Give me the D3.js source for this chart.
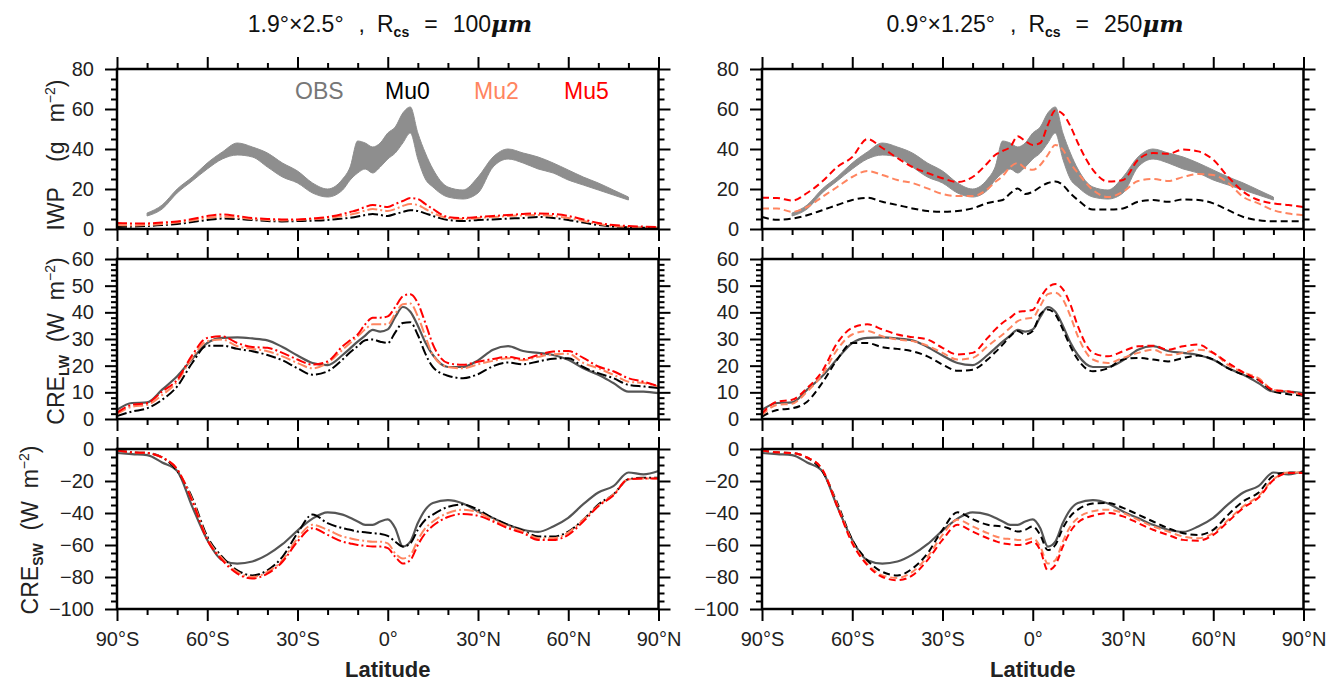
<!DOCTYPE html>
<html>
<head>
<meta charset="utf-8">
<script src="https://cdn.jsdelivr.net/npm/d3@7"></script>
<style>
  body { margin: 0; background: #fff; }
  text { font-family: "Liberation Sans", Arial, Helvetica, sans-serif; white-space: pre; }
</style>
</head>
<body>
<svg id="chart" width="1338" height="683"></svg>
<script>
// latitude grid shared by every series
const lat = [-90,-85,-80,-75,-70,-65,-60,-55,-50,-45,-40,-35,-30,-25,-20,-15,-12.5,-10,-7.5,-5,-2.5,
             0,2.5,5,7.5,10,12.5,15,20,25,30,35,40,45,50,55,60,65,70,75,80,85,90];

// IWP observations: range band (g m-2)
const iwpObsLow  = [null,null,6.5,10,18,24,30,35,37,36,31,26,23,18,16,19.5,24.5,28,30,28,31,35,38,43,48,35,25,21,16,15,18,31,35,33,30,28,24.5,22,19.5,17,14.5,null,null];
const iwpObsHigh = [null,null,8,12,20,26,33,38.5,43,41,38,33,29,23,20,25,31,44,43,41,43,48,51,58,61,48,38,30,21,19.5,26,36,40,38,36,33,29.5,26,23,19.5,16,null,null];

// IWP, 1.9x2.5 (left)
const iwpMu0L = [1,1.2,1.5,2,2.5,3.5,4.5,5.2,5,4.5,4,3.8,4,4.2,4.5,5.2,5.6,6.2,7,7.5,7,6.5,7.5,8.5,9.4,9,7.8,6.5,4.5,4,4.5,4.8,5.2,5.5,6,5.5,4.5,3.2,2,1.2,0.8,0.6,0.5];
const iwpMu2L = [2,1.8,2,2.5,3.2,4.3,5.5,6.2,5.7,5,4.5,4.3,4.5,5,5.5,6.5,7.2,8,9.2,10,9.5,9,10,11.5,12.5,12,10,8,5.5,5,5.5,6,6.5,6.8,7,6.5,5.5,4,2.5,1.5,1,0.8,0.8];
const iwpMu5L = [3,2.8,2.8,3.2,3.8,5,6.5,7.3,6.5,5.5,5,4.8,4.8,5.3,6,7.5,8.5,9.5,11,12,11.5,11,12.5,14,15.5,15,12.5,10,6,5.5,6,6.5,7,7.5,7.8,7.5,6.5,4.8,3,2,1.5,1.2,1];
// IWP, 0.9x1.25 (right)
const iwpMu0R = [6,4.6,5.2,6.9,9.4,12,14.5,15.6,13.6,12,10.3,9,8.6,9,10.3,13,13.8,14.5,17.8,20.3,17.5,18.6,21,23,23.7,22,17.8,14.5,9.7,9.7,10.3,13.6,14.5,13.6,14.8,14.5,12.8,9.4,6,4.4,3.9,3.9,3.9];
const iwpMu2R = [10.3,10.3,8.6,11,16,21,26,29,27,24.5,23,20.3,17.5,16.5,16.5,20,23.5,26.5,31,33,30.5,29.6,32,37,42,39.7,33,28,19.5,16,18.6,24,25,24,26,27.5,27,23,16,12.8,9.4,7.7,6.9];
const iwpMu5R = [15.6,15.5,14.2,18,23.7,31,36,45,40.5,35.5,31,28,25.4,23.5,26,33,37,39,41,46.4,44,42,43,52,59.3,57.5,51.5,43,29.6,23.7,24.5,34.6,38,37.6,39.7,38.8,34.6,26,18.6,14.5,12.8,12,11];

// longwave cloud radiative effect (W m-2)
const lwObs   = [3.4,6,6.2,11,16,22.5,28.5,30.4,30.6,30.2,29.5,27,23.8,21,20.2,24,26.5,29,31.3,33.4,32.8,33.6,38.3,42,40.2,35,28.7,24,19.5,19.5,22,26,27.3,25.5,24.8,24,22.2,19,16.6,13.5,10.3,10.3,9.7];
const lwMu0L  = [1.1,2.8,4,7.2,12.2,21,27.5,27.5,26.3,25.4,24,22,19,16.6,17.9,22.3,25,27.3,29.5,29.8,29,28.5,32.5,36,36.3,31.5,24.5,19.5,16.2,15.3,16.8,19.8,21.2,20.5,21.6,22.6,22.8,19.5,17.2,15.3,12.8,12.2,11.6];
const lwMu2L  = [1.9,4.6,5.3,9,14,23,29.2,29.8,27.3,26.3,25.4,23.5,21,19,21,26,28.5,31,33.6,35.5,35.5,35.5,39.5,43,43.3,38.5,31,24,19.5,19,20.5,21.8,22.8,22,23.3,24.3,24.5,21,19,16.6,14,13.5,12.2];
const lwMu5L  = [2.4,5.3,6,10.3,14.7,24,30.4,31,28.5,27,26.7,24.8,22.3,20.4,21.6,27.3,29.5,31.7,35.5,38,38,38.5,42,46,46.8,43.5,36,28,21,20.3,21.5,22.5,23.3,22.5,24,25.3,25.5,22.9,19.7,17.9,15.3,14,12.2];
const lwMu0R  = [0.9,3.4,4,6.5,13.5,22.3,28.5,28.5,26.9,26.3,25.4,23.5,20.4,18.1,18.5,22.3,25,27.9,31,33,31.7,33,39.2,41.1,39.2,33.6,27.3,22.3,17.9,19,22.3,22.9,22.3,21.6,22.9,23.8,22.3,19,16.6,14.7,10.3,9.3,8.7];
const lwMu2R  = [1.5,5.3,5.7,10.3,16.6,26,31.7,33,31,29.8,29.2,27.5,24.8,22.3,22.9,27.3,29.5,31.7,34.2,36.7,37.6,38,42.4,46.8,47.4,44.9,38.6,31,22.3,21,22.9,24.8,26,24,24.8,26,24.8,20.2,17.5,15.3,10.9,10.3,9];
const lwMu5R  = [2.1,6.5,7.2,11.6,17.9,28.5,34.2,35.5,33.6,31.7,30.7,29.8,26.7,24.2,24.8,30.4,33.5,36.1,38,40.1,40.5,40.9,45.5,49.3,50.6,48.7,43,34.8,24.8,23.5,25.4,27.3,27.5,26,27.3,27.9,24.8,21,17.5,14.7,10.9,10.3,9];

// shortwave cloud radiative effect (W m-2)
const swObs   = [-2.5,-3.2,-3.8,-8.4,-13.7,-36,-56.8,-69.5,-71.6,-70.3,-66,-59.5,-51,-43.5,-39.6,-41,-43,-45.3,-47.4,-47.4,-45.3,-44,-49.5,-61,-57.9,-46.3,-37.9,-33.7,-32,-34.1,-39,-43.2,-47.4,-50.5,-51.8,-48.4,-43,-34.5,-27.2,-23.2,-14.7,-15.8,-13.7];
const swMu0L  = [-1,-2.1,-2.5,-5.3,-13.7,-30.5,-54.7,-67.4,-75.8,-79,-75.8,-67.4,-52.6,-41,-46.3,-49.5,-50.5,-51.6,-52,-52.6,-53,-54.3,-57.9,-61,-59,-50.5,-44.2,-41,-36.2,-34.7,-37.9,-43.2,-47.4,-51,-54.7,-54.7,-51.6,-44.2,-34.7,-28.4,-18.9,-17.9,-17.9];
const swMu2L  = [-1,-2.1,-2.5,-5.3,-12.6,-31.6,-55.8,-68.4,-76.8,-80,-76.8,-69.5,-55.8,-47.4,-50.5,-54.7,-55.8,-56.8,-57.4,-57.9,-57.9,-59,-65.3,-68.4,-66.3,-56.8,-49.5,-45.3,-40,-37.9,-39.6,-44.2,-48.4,-51.6,-55.8,-55.8,-52.2,-44.2,-35.4,-28.4,-18.9,-18.5,-18.5];
const swMu5L  = [-1,-2.1,-2.5,-5.3,-12.6,-32.6,-56.8,-69.5,-77.9,-81,-77.9,-70.5,-57.9,-49.5,-53.7,-57.9,-59,-60,-60.5,-61,-61,-62,-67.4,-71.6,-69.5,-60,-52.6,-48,-42.5,-40.6,-41.7,-45.3,-49.5,-52.6,-56.8,-56.8,-53.7,-45.3,-35.8,-29,-18.9,-18.5,-18.5];
const swMu0R  = [-1,-2.1,-2.5,-5.5,-13.7,-33.7,-56.8,-69.5,-76.8,-79,-74.7,-65.3,-50.5,-39.6,-43.8,-47.4,-48,-48.4,-50,-51.6,-50.5,-48.4,-53.7,-63.2,-60,-49.5,-42.1,-37.9,-34.1,-33.7,-36.8,-41,-45.3,-49.5,-52.6,-53.7,-50.5,-41,-32.6,-27.4,-16.8,-14.7,-14.7];
const swMu2R  = [-1,-2.1,-2.5,-5.3,-12.6,-34.7,-57.9,-71.6,-79,-80.6,-76.8,-67.4,-53.7,-44.2,-48.4,-52.6,-54.5,-55.8,-56.3,-56.8,-56.8,-55.8,-61,-71.6,-69.5,-57.9,-48.4,-43.2,-38.9,-37.9,-40,-44.2,-48.4,-51.6,-54.7,-55.8,-52.6,-44.2,-35.8,-29.5,-18.9,-14.7,-14.7];
const swMu5R  = [-1,-2.1,-2.5,-5.3,-12.6,-35.8,-58.9,-72.6,-80,-82,-79,-69.5,-56.8,-47.4,-51.6,-55.8,-57.5,-58.9,-59.5,-60,-59.5,-57.9,-63.2,-75.8,-72.6,-61,-51.6,-45.9,-41.7,-40,-42.1,-46.3,-50.5,-53.7,-56.8,-57.3,-53.7,-45.3,-36.8,-30.5,-19.4,-15,-15];

// labels
const legendNames = ["OBS", "Mu0", "Mu2", "Mu5"];
const latTicks = [-90, -60, -30, 0, 30, 60, 90];
const latLabels = ["90°S", "60°S", "30°S", "0°", "30°N", "60°N", "90°N"];

const obsBandColor = "#8e8e8e", obsLineColor = "#555555";
const modelColors = ["#000000", "#ff8560", "#ff0000"];
const legendColors = ["#777777", "#000000", "#ff8560", "#ff0000"];

const svg = d3.select("#chart");
const panelW = 541.5, panelH = 160;
const colX = [117, 762];
const rowY = [69, 259, 449];

const rows = [
  { domain: [0, 80], major: 20, minor: 5 },
  { domain: [0, 60], major: 10, minor: 2 },
  { domain: [-100, 0], major: 20, minor: 5 }
];

const cols = [
  { dash: "10,3,2,3", models: [[iwpMu0L, iwpMu2L, iwpMu5L], [lwMu0L, lwMu2L, lwMu5L], [swMu0L, swMu2L, swMu5L]],
    res: "1.9°×2.5°", rcs: "100", titleX: 390 },
  { dash: "7,4", models: [[iwpMu0R, iwpMu2R, iwpMu5R], [lwMu0R, lwMu2R, lwMu5R], [swMu0R, swMu2R, swMu5R]],
    res: "0.9°×1.25°", rcs: "250", titleX: 1035 }
];
const obsLines = [null, lwObs, swObs];

function styleAxis(s) {
  s.select(".domain").remove();
  s.selectAll("line").attr("stroke", "#000").attr("stroke-width", 2);
  s.selectAll("text").attr("font-size", 20).attr("fill", "#222")
    .attr("font-family", "'Liberation Sans', Arial, sans-serif");
}

function addAxis(g, gen, tr) {
  g.append("g").attr("transform", tr).call(gen).call(styleAxis);
}

cols.forEach((col, c) => {
  const x = d3.scaleLinear().domain([-90, 90]).range([colX[c], colX[c] + panelW]);

  rows.forEach((row, r) => {
    const y = d3.scaleLinear().domain(row.domain).range([rowY[r] + panelH, rowY[r]]);
    const g = svg.append("g");
    const clipId = `clip-${c}-${r}`;
    g.append("clipPath").attr("id", clipId).append("rect")
      .attr("x", colX[c]).attr("y", rowY[r]).attr("width", panelW).attr("height", panelH);
    const plot = g.append("g").attr("clip-path", `url(#${clipId})`);

    if (r === 0) {
      const band = d3.area()
        .defined(i => iwpObsLow[i] != null)
        .x(i => x(lat[i]))
        .y0(i => y(iwpObsLow[i]))
        .y1(i => y(iwpObsHigh[i]))
        .curve(d3.curveMonotoneX);
      plot.append("path").attr("d", band(d3.range(lat.length)))
        .attr("fill", obsBandColor).attr("stroke", obsBandColor).attr("stroke-width", 1);
    } else {
      const obsLine = d3.line().x((d, i) => x(lat[i])).y(d => y(d)).curve(d3.curveMonotoneX);
      plot.append("path").attr("d", obsLine(obsLines[r]))
        .attr("fill", "none").attr("stroke", obsLineColor).attr("stroke-width", 2.2);
    }

    const line = d3.line().x((d, i) => x(lat[i])).y(d => y(d)).curve(d3.curveMonotoneX);
    col.models[r].forEach((vals, k) => {
      plot.append("path").attr("d", line(vals))
        .attr("fill", "none").attr("stroke", modelColors[k]).attr("stroke-width", 2)
        .attr("stroke-dasharray", col.dash);
    });

    // ticks on all four sides, pointing outwards
    const xMajor = d3.range(-90, 91, 30);
    const xMinor = d3.range(-90, 91, 10).filter(v => v % 30 !== 0);
    const [d0, d1] = row.domain;
    const yMajor = d3.range(d0, d1 + 0.01, row.major);
    const yMinor = d3.range(d0, d1 + 0.01, row.minor).filter(v => Math.abs(v % row.major) > 1e-6);
    const bottom = rowY[r] + panelH, top = rowY[r];
    const left = colX[c], right = colX[c] + panelW;

    addAxis(g, d3.axisTop(x).tickValues(xMinor).tickSize(6).tickFormat(""), `translate(0,${top})`);
    addAxis(g, d3.axisTop(x).tickValues(xMajor).tickSize(12).tickFormat(""), `translate(0,${top})`);
    addAxis(g, d3.axisBottom(x).tickValues(xMinor).tickSize(6).tickFormat(""), `translate(0,${bottom})`);
    addAxis(g, d3.axisBottom(x).tickValues(xMajor).tickSize(12).tickPadding(11)
      .tickFormat(r === 2 ? (d => latLabels[latTicks.indexOf(d)]) : ""), `translate(0,${bottom})`);

    const fmt = v => (v < 0 ? "\u2212" + Math.abs(v) : String(v));
    addAxis(g, d3.axisLeft(y).tickValues(yMinor).tickSize(6).tickFormat(""), `translate(${left},0)`);
    addAxis(g, d3.axisLeft(y).tickValues(yMajor).tickSize(12).tickPadding(11).tickFormat(fmt), `translate(${left},0)`);
    addAxis(g, d3.axisRight(y).tickValues(yMinor).tickSize(6).tickFormat(""), `translate(${right},0)`);
    addAxis(g, d3.axisRight(y).tickValues(yMajor).tickSize(12).tickFormat(""), `translate(${right},0)`);

    g.append("rect").attr("x", left).attr("y", top).attr("width", panelW).attr("height", panelH)
      .attr("fill", "none").attr("stroke", "#000").attr("stroke-width", 2.5);
  });

  // column title, wide NCL-like spacing
  const t = svg.append("text").attr("x", col.titleX).attr("y", 32).attr("text-anchor", "middle")
    .attr("font-size", 23).attr("fill", "#111").attr("font-family", "'DejaVu Sans', sans-serif");
  t.append("tspan").text(col.res);
  t.append("tspan").text(",").attr("dx", 15);
  t.append("tspan").text("R").attr("dx", 12);
  t.append("tspan").text("cs").attr("font-size", 14).attr("font-weight", "bold").attr("dy", 5);
  t.append("tspan").text("=").attr("dx", 15).attr("dy", -5);
  t.append("tspan").text(col.rcs).attr("dx", 15);
  t.append("tspan").text("μm").attr("font-style", "italic").attr("font-weight", "bold")
    .attr("font-family", "'DejaVu Serif', serif");

  // x axis title
  svg.append("text").attr("x", colX[c] + panelW / 2).attr("y", 677).attr("text-anchor", "middle")
    .attr("font-size", 22).attr("font-weight", "bold").attr("fill", "#222").text("Latitude");
});

// y axis titles (left column only)
const yTitles = [["IWP", "", "    (g   m"], ["CRE", "LW", "  (W  m"], ["CRE", "SW", "  (W  m"]];
const yTitleX = [64, 64, 38];
const yTitleShift = [6, 2, 1];
yTitles.forEach((tt, r) => {
  const cy = rowY[r] + panelH / 2 + yTitleShift[r];
  const t = svg.append("text").attr("transform", `translate(${yTitleX[r]},${cy}) rotate(-90)`)
    .attr("text-anchor", "middle").attr("font-size", 23).attr("fill", "#222");
  t.append("tspan").text(tt[0]);
  if (tt[1]) t.append("tspan").text(tt[1]).attr("font-size", 14).attr("font-weight", "bold").attr("dy", 5);
  t.append("tspan").text(tt[2]).attr("dy", tt[1] ? -5 : 0);
  t.append("tspan").text("\u22122").attr("font-size", 14).attr("dy", -9);
  t.append("tspan").text(")").attr("dy", 9);
});

// legend in the first panel
const legendX = [295, 385, 474, 564];
legendNames.forEach((name, i) => {
  svg.append("text").attr("x", legendX[i]).attr("y", 99).attr("font-size", 23)
    .attr("font-family", "'DejaVu Sans', sans-serif")
    .attr("fill", legendColors[i]).text(name);
});
</script>
</body>
</html>
